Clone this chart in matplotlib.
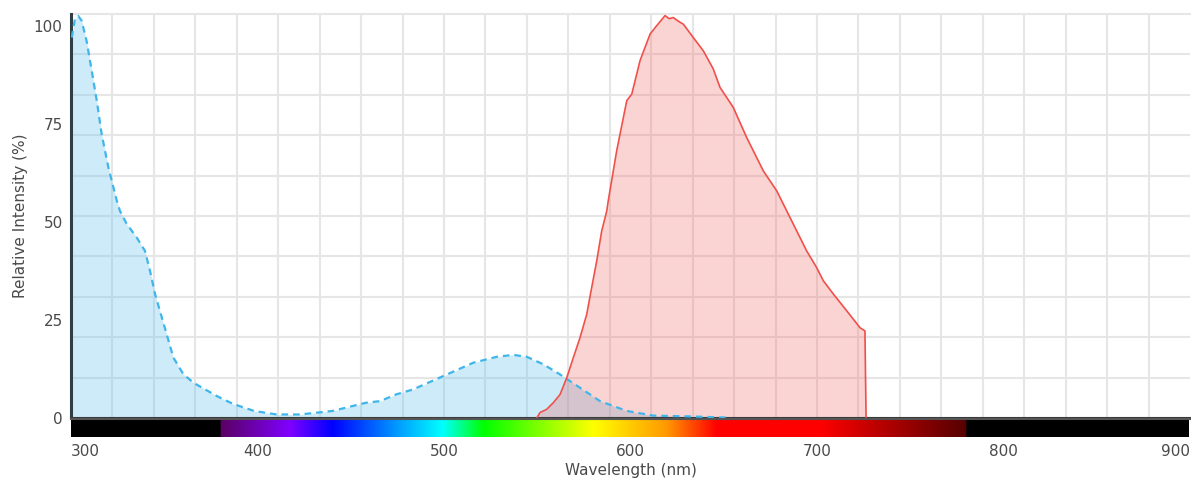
import numpy as np
import matplotlib
matplotlib.use("Agg")
import matplotlib.pyplot as plt
from matplotlib.colors import to_rgb


# ============================ #
# Data  #
# ============================ #
# excitation spectrum (dashed blue)
ex_nm = [300.4, 302.1, 303.9, 305.7, 308.4, 311.1, 313.8, 316.4, 320.0, 324.5,
         326.2, 329.8, 335.2, 339.6, 342.3, 345.0, 347.6, 351.2, 354.8, 360.1,
         365.5, 378.0, 386.7, 398.0, 410.0, 422.6, 440.0, 458.0, 465.4, 474.0,
         483.2, 499.3, 515.4, 527.9, 536.8, 544.0, 552.8, 561.8, 572.5, 583.2,
         597.5, 611.7, 631.4, 651.7]
ex_val = [97.0, 101.7, 102.5, 101.3, 96.0, 88.5, 80.9, 72.4, 63.9, 55.4,
          52.8, 49.5, 46.0, 42.6, 37.5, 31.6, 27.3, 21.4, 15.4, 11.2,
          9.0, 5.6, 3.6, 1.8, 0.9, 0.9, 1.8, 3.9, 4.3, 6.0,
          7.3, 10.7, 14.1, 15.6, 16.1, 15.6, 13.7, 11.1, 7.7, 4.3,
          1.8, 0.6, 0.4, 0.1]

# emission spectrum (solid red)
em_nm = [549.3, 551.1, 554.6, 558.2, 561.8, 565.4, 568.9, 572.5, 576.1, 578.7,
         581.4, 584.1, 586.8, 587.6, 592.1, 597.5, 600.2, 604.6, 610.0, 613.5,
         618.0, 620.2, 622.4, 625.0, 627.8, 633.1, 638.5, 643.8, 647.4, 654.5,
         661.7, 670.6, 677.8, 684.9, 693.8, 699.2, 702.7, 708.1, 715.3, 722.4,
         725.0, 725.6]
em_val = [0.0, 1.4, 2.2, 3.9, 6.0, 10.3, 15.4, 20.5, 26.5, 33.2,
          40.0, 47.7, 52.8, 55.4, 68.1, 80.9, 82.6, 91.1, 97.9, 100.0,
          102.6, 101.8, 102.1, 101.2, 100.4, 97.0, 93.6, 89.0, 84.3, 79.2,
          71.5, 63.0, 57.9, 51.1, 42.6, 38.3, 35.0, 31.6, 27.3, 23.0,
          22.2, 0.0]

x_ticks = [300, 400, 500, 600, 700, 800, 900]
y_ticks = [0, 25, 50, 75, 100]

# visible spectrum colour stops for the bar under the plot
spec_nm = [300, 379.9, 380, 417, 440, 476, 499, 521, 580, 619, 646, 701, 780, 780.1, 900]
spec_col = ["#000000", "#000000", "#5a0062", "#8000ff", "#0000ff", "#00a0ff",
            "#00ffff", "#00ff00", "#ffff00", "#ff9900", "#ff0000", "#ff0000",
            "#550000", "#000000", "#000000"]

XMIN, XMAX = 300, 899
YMAX = 103
TXT = "#4a4a4a"


# ============================ #
# Plotting                     #
# ============================ #
fig = plt.figure(figsize=(11.91, 4.83), dpi=100)
ax = fig.add_axes([71 / 1191, 1 - 418 / 483, 1119 / 1191, 404 / 483])
bar = fig.add_axes([71 / 1191, 1 - 437 / 483, 1119 / 1191, 18 / 483])

# grid (drawn under the translucent fills)
for k in range(1, 27):
    ax.axvline(XMIN + k * (XMAX - XMIN) / 27, color="#e6e6e6", lw=1.5, zorder=0)
for k in range(1, 10):
    ax.axhline(k * YMAX / 10, color="#e6e6e6", lw=1.5, zorder=0)
ax.axhline(YMAX, color="#e6e6e6", lw=1.5, zorder=0, clip_on=False)

ax.fill_between(ex_nm, ex_val, 0, color="#5bc0eb", alpha=0.3, lw=0, zorder=1)
ax.plot(ex_nm, ex_val, color="#3fb6ea", lw=1.6, ls=(0, (3, 2.2)), zorder=3)

ax.fill_between(em_nm, em_val, 0, color="#ef5350", alpha=0.25, lw=0, zorder=2)
ax.plot(em_nm, em_val, color="#f0504a", lw=1.2, zorder=3)

ax.set_xlim(XMIN, XMAX)
ax.set_ylim(0, YMAX)
ax.set_xticks([])
ax.set_yticks(y_ticks)
ax.set_yticklabels([str(v) for v in y_ticks], fontsize=11, color=TXT)
ax.tick_params(axis="y", length=0, pad=6)
for s in ["top", "right"]:
    ax.spines[s].set_visible(False)
ax.spines["left"].set_color("#2f3f44")
ax.spines["left"].set_linewidth(2.2)
ax.spines["bottom"].set_color("#3a3a3a")
ax.spines["bottom"].set_linewidth(1.5)
ax.set_ylabel("Relative Intensity (%)", fontsize=11, color=TXT, labelpad=4)

# spectrum bar
grid_nm = np.linspace(XMIN, XMAX, 1200)
rgb = np.array([to_rgb(c) for c in spec_col])
img = np.stack([np.interp(grid_nm, spec_nm, rgb[:, i]) for i in range(3)], axis=-1)
bar.imshow(img[np.newaxis, :, :], aspect="auto", extent=[XMIN, XMAX, 0, 1])
bar.set_xlim(XMIN, XMAX)
bar.set_yticks([])
bar.set_xticks(x_ticks)
bar.set_xticklabels([str(v) for v in x_ticks], fontsize=11, color=TXT)
bar.tick_params(axis="x", length=0, pad=5)
labels = bar.get_xticklabels()
labels[0].set_horizontalalignment("left")
labels[-1].set_horizontalalignment("right")
for s in ["left", "right", "bottom"]:
    bar.spines[s].set_visible(False)
bar.spines["top"].set_color("#555555")
bar.spines["top"].set_linewidth(1.5)
bar.set_xlabel("Wavelength (nm)", fontsize=11, color=TXT, labelpad=3)

fig.savefig("out.png", dpi=100)
